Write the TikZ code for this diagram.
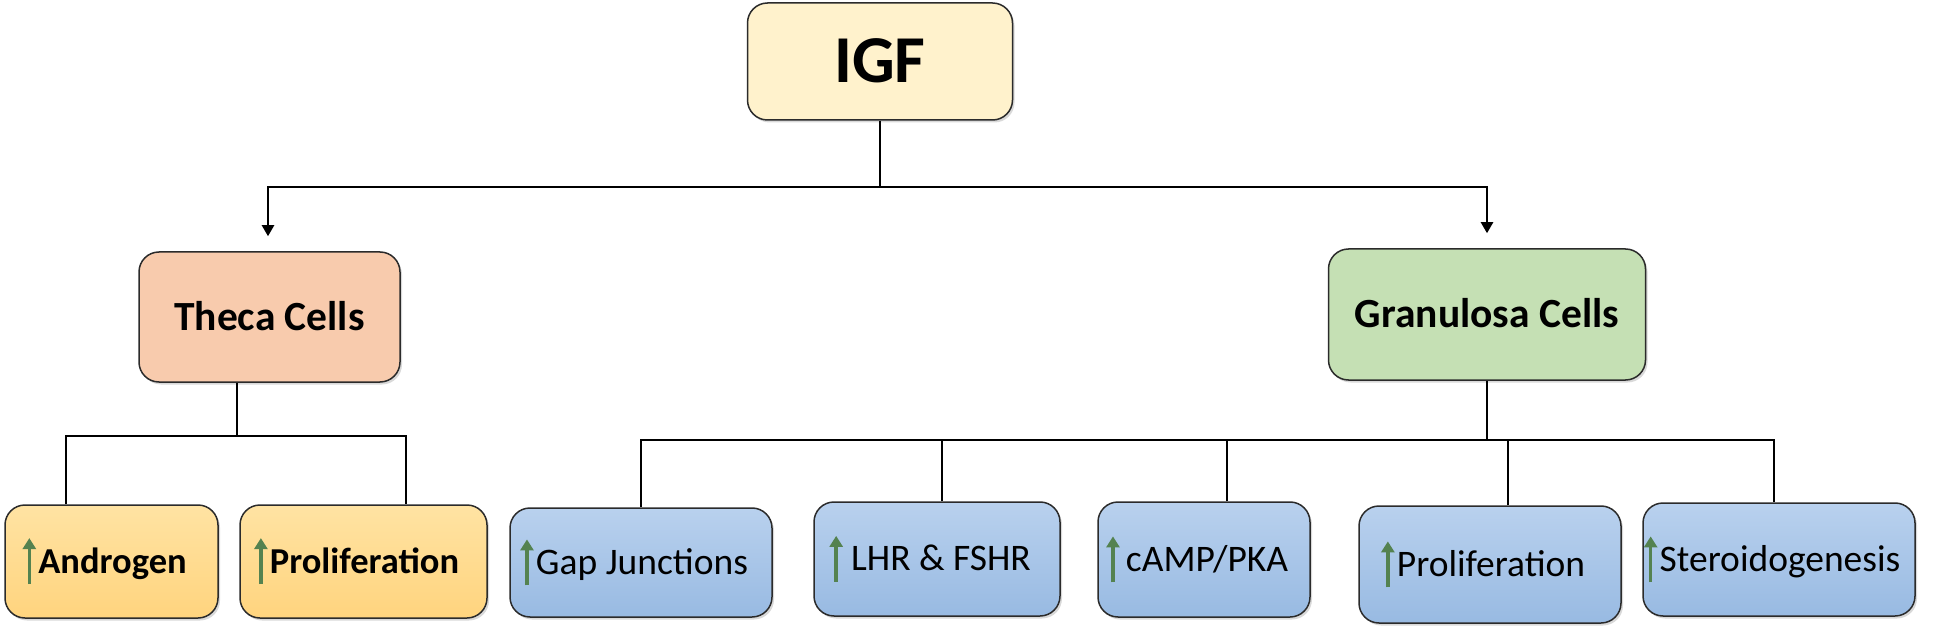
\documentclass[tikz,border=0pt]{standalone}
\usepackage{fontspec}
\setmainfont{Carlito}
\usetikzlibrary{arrows.meta,shadows}
\definecolor{igfc}{HTML}{FFF2CC}
\definecolor{thecac}{HTML}{F8CBAD}
\definecolor{granc}{HTML}{C5E0B4}
\definecolor{orat}{HTML}{FFE3A3}
\definecolor{orab}{HTML}{FFD47E}
\definecolor{blut}{HTML}{B9D1EE}
\definecolor{blub}{HTML}{98BAE2}
\definecolor{grn}{RGB}{84,130,80}
\definecolor{edgec}{HTML}{2B2B2B}
\begin{document}
\begin{tikzpicture}[x=1pt,y=-1pt,
  box/.style={draw=edgec, line width=1.5pt, rounded corners=20pt, inner sep=0pt,
    drop shadow={shadow xshift=2pt,shadow yshift=-2.5pt,opacity=0.3}},
  topbox/.style={box, fill=igfc, font=\fontsize{67}{72}\selectfont\bfseries, text height=42.5pt, text depth=0pt},
  midbox/.style={box, font=\fontsize{41.5}{46}\selectfont\bfseries, text height=26.3pt, text depth=0pt},
  orabox/.style={box, top color=orat, bottom color=orab, font=\fontsize{36.5}{40}\selectfont\bfseries, text height=23.2pt, text depth=0pt},
  blubox/.style={box, top color=blut, bottom color=blub, font=\fontsize{37.5}{40}\selectfont, text height=23.8pt, text depth=0pt},
  conn/.style={draw=black, line width=2.2pt},
  connarrow/.style={conn, -{Triangle[width=12pt,length=11pt]}, shorten >=15pt},
  uparr/.style={draw=grn, line width=3.5pt, -{Triangle[width=13pt,length=11pt]}}
]
\useasboundingbox (0,0) rectangle (1943,628);

% boxes
\node[topbox, minimum width=265pt, minimum height=117pt] (igf) at (880,61.5) {IGF};
\node[midbox, fill=thecac, minimum width=261pt, minimum height=130pt] (theca) at (269.5,317) {Theca Cells};
\node[midbox, fill=granc, minimum width=317pt, minimum height=131pt] (gran) at (1487,314.5) {Granulosa Cells};

\node[orabox, minimum width=213pt, minimum height=113pt] (andr) at (111.5,561.5) {\hspace*{14pt}Androgen\hspace*{12pt}};
\node[orabox, minimum width=247pt, minimum height=113pt] (prolo) at (363.5,561.5) {\hspace*{14pt}Proliferation\hspace*{12pt}};

\node[blubox, minimum width=262pt, minimum height=109pt] (gap) at (641,562.5) {\hspace*{14pt}Gap Junctions\hspace*{12pt}};
\node[blubox, minimum width=246pt, minimum height=114pt] (lhr) at (937,559) {\hspace*{20pt}LHR \& FSHR\hspace*{12pt}};
\node[blubox, minimum width=212pt, minimum height=115pt] (camp) at (1204,559.5) {\hspace*{18pt}cAMP/PKA\hspace*{12pt}};
\node[blubox, minimum width=262pt, minimum height=117pt] (prolb) at (1490,564.5) {\hspace*{14pt}Proliferation\hspace*{12pt}};
\node[blubox, minimum width=272pt, minimum height=113pt] (ster) at (1779,559.5) {\hspace*{14pt}Steroidogenesis\hspace*{12pt}};

% green up arrows
\foreach \n in {andr, prolo, gap, lhr, camp, prolb, ster}{
  \draw[uparr] ([xshift=5pt, yshift=-11pt]\n.text) -- ([xshift=5pt, yshift=35pt]\n.text);
}

% connectors from IGF
\coordinate (j0) at (880,187);
\draw[conn] (igf.south) -- (j0);
\draw[connarrow] (j0) -| ([xshift=-1.5pt]theca.north);
\draw[connarrow] (j0) -| (gran.north);

% theca branch
\coordinate (tj) at (237,436);
\draw[conn] ([xshift=-32.5pt]theca.south) -- (tj);
\draw[conn] ([xshift=-45.5pt]andr.north) |- (tj) -| ([xshift=42.5pt]prolo.north);

% granulosa branch
\coordinate (gj) at (1487,440);
\draw[conn] (gran.south) -- (gj);
\draw[conn] (gap.north) |- (gj) -| ([xshift=-5pt]ster.north);
\draw[conn] ([xshift=5pt]lhr.north) |- (gj);
\draw[conn] ([xshift=23pt]camp.north) |- (gj);
\draw[conn] ([xshift=18pt]prolb.north) |- (gj);
\end{tikzpicture}
\end{document}
